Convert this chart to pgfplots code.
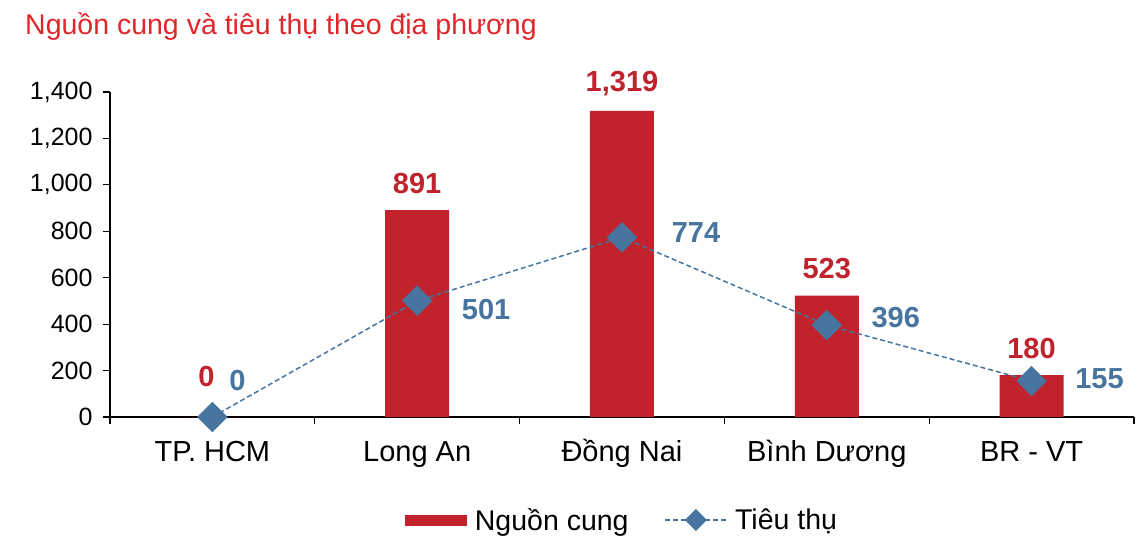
\documentclass[border=0pt]{standalone}
\usepackage{pgfplots}
\pgfplotsset{compat=1.18}
\usepackage{fontspec}
\setmainfont{Liberation Sans}
\definecolor{barred}{HTML}{C0232C}
\definecolor{lineblue}{HTML}{4775A0}
\definecolor{titlered}{HTML}{E0262B}
\pgfplotsset{
    barlegend/.style={legend image code/.code={\fill[barred] (0pt,-5.5pt) rectangle (62pt,5.5pt);}},
    linelegend/.style={legend image code/.code={\draw[mark repeat=2, mark phase=2, ##1, mark size=7pt]
        plot coordinates {(0pt,0pt) (30.5pt,0pt) (61pt,0pt)};}},
}
\begin{document}
\begin{tikzpicture}
\node[anchor=west, text=titlered, font=\fontsize{28.5}{32}\selectfont, inner sep=0pt] at (25pt,-27pt) {Nguồn cung và tiêu thụ theo địa phương};
\begin{axis}[
    at={(110pt,-417pt)}, anchor=south west,
    scale only axis, width=1024pt, height=325pt,
    xmin=-0.5, xmax=4.5, ymin=0, ymax=1400,
    axis lines*=left,
    axis line style={line width=1.2pt},
    tick align=outside,
    major tick length=7pt,
    tick style={line width=1.2pt, black},
    xtick={-0.5,0.5,...,4.5}, xticklabels={},
    extra x ticks={0,1,2,3,4},
    extra x tick labels={TP. HCM, Long An, Đồng Nai, Bình Dương, BR - VT},
    extra x tick style={tick style={draw=none}},
    x tick label style={font=\fontsize{29}{32}\selectfont, text height=21pt, text depth=6pt, anchor=north, yshift=-13pt},
    ytick={0,200,...,1400},
    y tick label style={font=\fontsize{25}{28}\selectfont, xshift=-7pt},
    /pgf/number format/assume math mode=true,
    /pgf/number format/1000 sep={,},
    legend columns=2,
    legend style={draw=none, at={(0.5,-0.317)}, anchor=center,
        font=\fontsize{28.5}{32}\selectfont,
        /tikz/every odd column/.append style={column sep=6pt},
        /tikz/every even column/.append style={column sep=34pt}},
    legend cell align=left,
]
\addplot[ybar, bar width=64pt, fill=barred, draw=none, barlegend,
    nodes near coords={\pgfmathprintnumber[assume math mode=true]{\pgfplotspointmeta}},
    every node near coord/.append style={anchor=center, yshift=27pt, text=barred,
        font=\fontsize{29}{32}\selectfont\bfseries},
    coordinate style/.condition={\coordindex==0}{xshift=-6pt, yshift=13pt},
] coordinates {(0,0) (1,891) (2,1319) (3,523) (4,180)};
\addlegendentry{Nguồn cung}
\addplot[lineblue, line width=1.5pt, dash pattern=on 5pt off 3pt, linelegend,
    mark=square*, mark size=10pt, mark options={rotate=45, solid, fill=lineblue, draw=lineblue},
    nodes near coords,
    every node near coord/.append style={anchor=center, text=lineblue,
        font=\fontsize{29}{32}\selectfont\bfseries},
    coordinate style/.condition={\coordindex==0}{xshift=25pt, yshift=36pt},
    coordinate style/.condition={\coordindex==1}{xshift=69pt, yshift=-9pt},
    coordinate style/.condition={\coordindex==2}{xshift=74pt, yshift=5pt},
    coordinate style/.condition={\coordindex==3}{xshift=69pt, yshift=8pt},
    coordinate style/.condition={\coordindex==4}{xshift=68pt, yshift=2pt},
] coordinates {(0,0) (1,501) (2,774) (3,396) (4,155)};
\addlegendentry{Tiêu thụ}
\end{axis}
\pgfresetboundingbox
\path[use as bounding box] (0pt,0pt) rectangle (1140pt,-544pt);
\end{tikzpicture}
\end{document}
